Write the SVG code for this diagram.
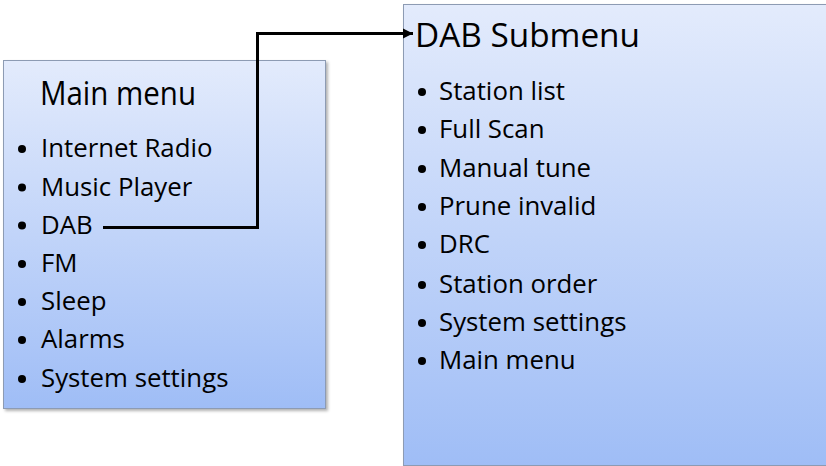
<svg xmlns="http://www.w3.org/2000/svg" width="826" height="466" viewBox="0 0 826 466">
<defs>
<linearGradient id="g" x1="0" y1="0" x2="0" y2="1">
<stop offset="0" stop-color="#e3ebfc"/>
<stop offset="1" stop-color="#9fbdf6"/>
</linearGradient>
<filter id="sh" x="-5%" y="-5%" width="115%" height="115%">
<feDropShadow dx="2" dy="2" stdDeviation="1.5" flood-color="#000" flood-opacity="0.3"/>
</filter>
<marker id="arr" viewBox="0 0 10 10" refX="10" refY="5" markerWidth="3.5" markerHeight="3.5" orient="auto" markerUnits="strokeWidth">
<path d="M0,0 L10,5 L0,10 z" fill="#000"/>
</marker>
<style>
.box{fill:url(#g);stroke:#8d9bb3;stroke-width:1;filter:url(#sh)}
.t{font-family:"Open Sans","Liberation Sans",sans-serif;fill:#000}
.title{font-size:33.5px}
.item{font-size:25.8px}
.b{fill:#000}
</style>
</defs>
<g id="main-menu">
<rect class="box" x="3.5" y="60.5" width="322" height="348"/>
<text class="t title" x="40" y="105" textLength="156" lengthAdjust="spacingAndGlyphs">Main menu</text>
<g class="t item">
<circle class="b" cx="22" cy="149" r="4"/><text x="41" y="157">Internet Radio</text>
<circle class="b" cx="22" cy="187.5" r="4"/><text x="41" y="195.5">Music Player</text>
<circle class="b" cx="22" cy="225.5" r="4"/><text x="41" y="233.5">DAB</text>
<circle class="b" cx="22" cy="264" r="4"/><text x="41" y="272">FM</text>
<circle class="b" cx="22" cy="302" r="4"/><text x="41" y="310">Sleep</text>
<circle class="b" cx="22" cy="340" r="4"/><text x="41" y="348">Alarms</text>
<circle class="b" cx="22" cy="379" r="4"/><text x="41" y="387">System settings</text>
</g>
</g>
<g id="dab-submenu">
<rect class="box" x="403.5" y="4.5" width="430" height="461"/>
<text class="t title" x="415" y="47" textLength="225" lengthAdjust="spacingAndGlyphs">DAB Submenu</text>
<g class="t item">
<circle class="b" cx="422" cy="92" r="4"/><text x="439" y="100">Station list</text>
<circle class="b" cx="422" cy="130" r="4"/><text x="439" y="138">Full Scan</text>
<circle class="b" cx="422" cy="169" r="4"/><text x="439" y="177">Manual tune</text>
<circle class="b" cx="422" cy="207" r="4"/><text x="439" y="215">Prune invalid</text>
<circle class="b" cx="422" cy="245" r="4"/><text x="439" y="253">DRC</text>
<circle class="b" cx="422" cy="285" r="4"/><text x="439" y="293">Station order</text>
<circle class="b" cx="422" cy="323" r="4"/><text x="439" y="331">System settings</text>
<circle class="b" cx="422" cy="361" r="4"/><text x="439" y="369">Main menu</text>
</g>
</g>
<g id="connectors">
<path d="M103,227.5 H257.5 V33.5 H413" fill="none" stroke="#000" stroke-width="3" marker-end="url(#arr)"/>
</g>
</svg>
